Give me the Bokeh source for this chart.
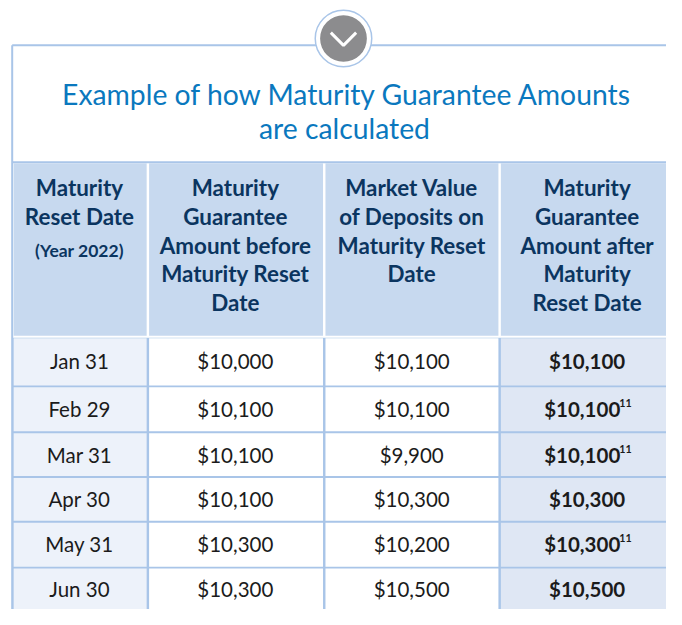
from bokeh.plotting import figure
from bokeh.models import Range1d
from bokeh.core.properties import value
from bokeh.embed import file_html
from bokeh.resources import INLINE

# ---------------- data ----------------
title_lines = ["Example of how Maturity Guarantee Amounts", "are calculated"]
header_col1 = ["Maturity", "Reset Date"]
header_col1_note = ["(Year 2022)"]
header_col2 = ["Maturity", "Guarantee", "Amount before", "Maturity Reset", "Date"]
header_col3 = ["Market Value", "of Deposits on", "Maturity Reset", "Date"]
header_col4 = ["Maturity", "Guarantee", "Amount after", "Maturity", "Reset Date"]
dates = ["Jan 31", "Feb 29", "Mar 31", "Apr 30", "May 31", "Jun 30"]
mga_before = [10000, 10100, 10100, 10100, 10300, 10300]
market_value = [10100, 10100, 9900, 10300, 10200, 10500]
mga_after = [10100, 10100, 10100, 10300, 10300, 10500]
footnote = ["", "11", "11", "", "11", ""]

# ---------------- layout / style ----------------
W, H = 666, 609
S = H / 625.0  # scale so the whole table fits inside the window
FONT = "Lato"
GRID = "#a9c5e8"
HEAD_FILL = "#c7d9ef"
COL1_FILL = "#edf2fa"
COL4_FILL = "#dfe7f4"
TITLE_C = "#0a78be"
HEAD_C = "#0b3560"
BODY_C = "#1b1b1b"

def fs(px):
    return "%.1fpx" % (px * S)

col_bounds = [12, 151, 332, 512, 720]
col_centers = [81, 241, 422, 602]
row_bounds = [346, 396, 443, 489, 535, 582, 640]
row_centers = [370, 419, 466, 512, 558, 604]
head_top, head_bottom = 166, 344
head_line_y0, head_line_dy = 192, 29.5

def money(v):
    return "${:,}".format(v)

p = figure(width=W, height=H, x_range=Range1d(0, W / S), y_range=Range1d(H / S, 0),
           output_backend="svg", toolbar_location=None, min_border=0,
           x_axis_type=None, y_axis_type=None)
p.grid.visible = False
p.outline_line_color = None
p.background_fill_color = "white"
p.border_fill_color = "white"

# outer box lines
p.segment(x0=[12, 12], y0=[46, 46], x1=[720, 12], y1=[46, 640], line_color=GRID, line_width=2)

# header band top line
p.segment(x0=[12], y0=[head_top], x1=[720], y1=[head_top], line_color=GRID, line_width=2)

# header cells
hl = [col_bounds[i] + 1.5 for i in range(4)]
hr = [col_bounds[i + 1] - 1 for i in range(4)]
p.quad(left=hl, right=hr, top=[head_top + 1] * 4, bottom=[head_bottom] * 4,
       fill_color=HEAD_FILL, line_color=None)

# body grid background
p.quad(left=[12], right=[720], top=[row_bounds[0]], bottom=[row_bounds[-1]],
       fill_color=GRID, line_color=None)
fills = [COL1_FILL, "white", "white", COL4_FILL]
cl, cr, ct, cb, cf = [], [], [], [], []
for i in range(4):
    for j in range(len(dates)):
        cl.append(col_bounds[i] + 1.5)
        cr.append(col_bounds[i + 1] - 1)
        ct.append(row_bounds[j] + (1 if j > 0 else 0.5))
        cb.append(row_bounds[j + 1] - 1)
        cf.append(fills[i])
p.quad(left=cl, right=cr, top=ct, bottom=cb, fill_color=cf, line_color=None)

# circle with chevron
p.circle(x=[352], y=[39], radius=29, fill_color="white", line_color=GRID, line_width=1.5)
p.circle(x=[352], y=[39], radius=24, fill_color="#8c8c8e", line_color=None)
p.line(x=[339, 352, 365], y=[33, 46, 33], line_color="white", line_width=3)

# title
p.text(x=[356, 353], y=[96, 131], text=title_lines, text_align="center",
       text_baseline="middle", text_font=value(FONT), text_font_size=fs(29),
       text_color=TITLE_C)

# header texts
hx, hy, ht = [], [], []
for c, lines in enumerate([header_col1, header_col2, header_col3, header_col4]):
    for k, s in enumerate(lines):
        hx.append(col_centers[c])
        hy.append(head_line_y0 + k * head_line_dy)
        ht.append(s)
p.text(x=hx, y=hy, text=ht, text_align="center", text_baseline="middle",
       text_font=value(FONT), text_font_size=fs(23), text_font_style="bold",
       text_color=HEAD_C)
p.text(x=[col_centers[0]], y=[head_line_y0 + 2 * head_line_dy + 6], text=header_col1_note,
       text_align="center", text_baseline="middle", text_font=value(FONT),
       text_font_size=fs(18), text_font_style="bold", text_color=HEAD_C)

# body texts
bx, by, bt = [], [], []
for j in range(len(dates)):
    for c, s in enumerate([dates[j], money(mga_before[j]), money(market_value[j])]):
        bx.append(col_centers[c])
        by.append(row_centers[j])
        bt.append(s)
p.text(x=bx, y=by, text=bt, text_align="center", text_baseline="middle",
       text_font=value(FONT), text_font_size=fs(21), text_color=BODY_C)

# last column (bold, with footnote superscripts)
ax = [col_centers[3] - (5 if f else 0) for f in footnote]
p.text(x=ax, y=row_centers, text=[money(v) for v in mga_after], text_align="center",
       text_baseline="middle", text_font=value(FONT), text_font_size=fs(21),
       text_font_style="bold", text_color=BODY_C)
sx = [col_centers[3] + 33 for f in footnote if f]
sy = [row_centers[j] - 6 for j, f in enumerate(footnote) if f]
st = [f for f in footnote if f]
p.text(x=sx, y=sy, text=st, text_align="left", text_baseline="middle",
       text_font=value(FONT), text_font_size=fs(11), text_font_style="bold",
       text_color=BODY_C)

open("out.html", "w").write(file_html(p, INLINE))
